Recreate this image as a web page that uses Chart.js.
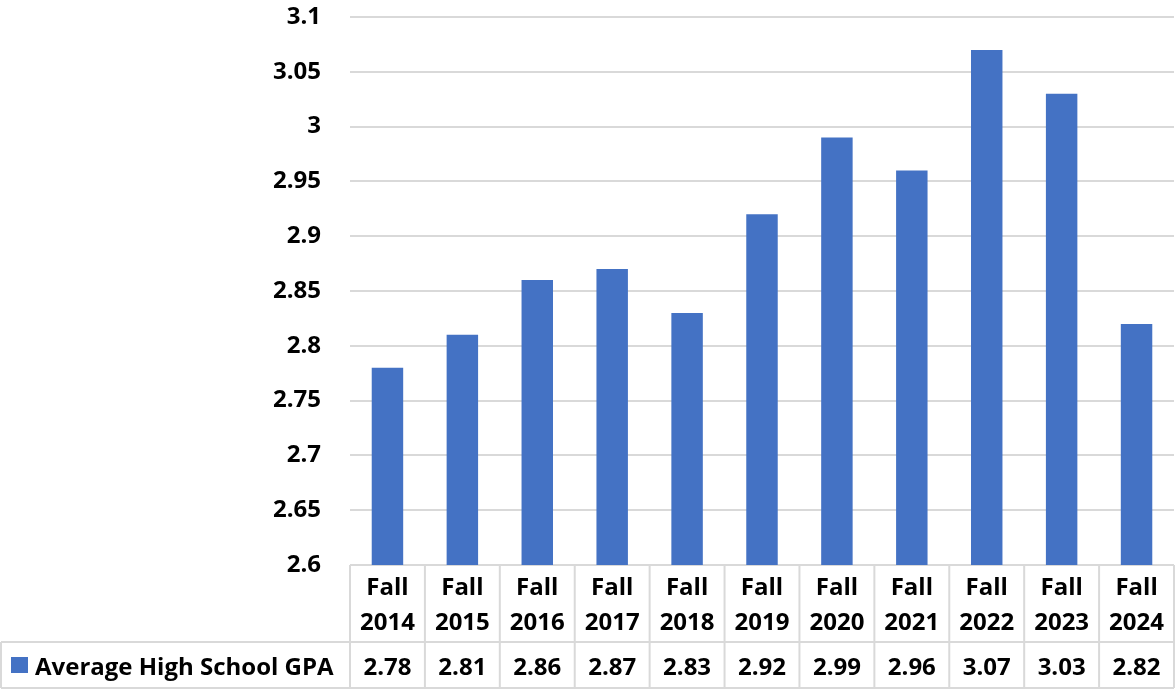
<!DOCTYPE html>
<html>
<head>
<meta charset="utf-8">
<script src="https://cdn.jsdelivr.net/npm/chart.js@4"></script>
<style>
  html, body { margin: 0; padding: 0; background: #fff; }
  #wrap { width: 1175px; height: 692px; }
</style>
</head>
<body>
<div id="wrap"><canvas id="gpaChart" width="1175" height="692"></canvas></div>
<script>
// ── Data ─────────────────────────────────────────────────────────────────────
const terms      = ['Fall 2014','Fall 2015','Fall 2016','Fall 2017','Fall 2018','Fall 2019','Fall 2020','Fall 2021','Fall 2022','Fall 2023','Fall 2024'];
const gpaValues  = [2.78, 2.81, 2.86, 2.87, 2.83, 2.92, 2.99, 2.96, 3.07, 3.03, 2.82];
const seriesName = 'Average High School GPA';
const yMin = 2.6, yMax = 3.1, yStep = 0.05;

const BAR_COLOR  = '#4472C4';
const GRID_COLOR = '#d9d9d9';
const FONT       = '"Open Sans", "Noto Sans", sans-serif';
const FONT_SIZE  = 24;

// ── Data table under the plot (Excel style) ─────────────────────────────────
const dataTable = {
    id: 'dataTable',
    afterDraw(chart) {
        const { ctx, chartArea, scales: { x } } = chart;
        const top    = chartArea.bottom;
        const midY   = top + 77;
        const bottom = top + 123;
        const left   = 1;
        const half   = (x.getPixelForValue(1) - x.getPixelForValue(0)) / 2;

        ctx.save();
        ctx.strokeStyle = GRID_COLOR;
        ctx.lineWidth = 2;
        ctx.beginPath();
        ctx.moveTo(left, midY);   ctx.lineTo(chartArea.right, midY);
        ctx.moveTo(left, bottom); ctx.lineTo(chartArea.right, bottom);
        ctx.moveTo(left, midY);   ctx.lineTo(left, bottom);
        terms.forEach((t, i) => {
            const cx = x.getPixelForValue(i);
            ctx.moveTo(cx - half, top); ctx.lineTo(cx - half, bottom);
        });
        ctx.moveTo(chartArea.right, top); ctx.lineTo(chartArea.right, bottom);
        ctx.stroke();

        ctx.fillStyle = '#000';
        ctx.font = `bold ${FONT_SIZE}px ${FONT}`;
        ctx.textAlign = 'center';
        ctx.textBaseline = 'alphabetic';
        terms.forEach((t, i) => {
            const cx = x.getPixelForValue(i);
            const [a, b] = t.split(' ');
            ctx.fillText(a, cx, top + 30);
            ctx.fillText(b, cx, top + 65);
            ctx.fillText(gpaValues[i].toFixed(2), cx, top + 110);
        });

        // legend key + series name
        ctx.fillStyle = BAR_COLOR;
        ctx.fillRect(11, top + 92, 17, 16);
        ctx.fillStyle = '#000';
        ctx.textAlign = 'left';
        ctx.fillText(seriesName, 35, top + 110);
        ctx.restore();
    }
};

// ── Chart ────────────────────────────────────────────────────────────────────
new Chart(document.getElementById('gpaChart').getContext('2d'), {
    type: 'bar',
    data: {
        labels: terms,
        datasets: [{
            label: seriesName,
            data: gpaValues,
            backgroundColor: BAR_COLOR,
            categoryPercentage: 1,
            barPercentage: 0.42,
        }],
    },
    options: {
        responsive: false,
        animation: false,
        layout: { padding: { top: 17, right: 1, bottom: 127, left: 0 } },
        plugins: {
            legend: { display: false },
            tooltip: { enabled: false },
        },
        scales: {
            x: { display: false },
            y: {
                min: yMin,
                max: yMax,
                afterFit: s => { s.width = 350; s.paddingTop = 0; s.paddingBottom = 0; },
                border: { display: false },
                grid: { color: GRID_COLOR, lineWidth: 2, drawTicks: false },
                ticks: {
                    stepSize: yStep,
                    padding: 29,
                    color: '#000',
                    font: { family: FONT, size: FONT_SIZE, weight: 'bold' },
                    callback: v => String(Number(v.toFixed(2))),
                },
            },
        },
    },
    plugins: [dataTable],
});
</script>
</body>
</html>
